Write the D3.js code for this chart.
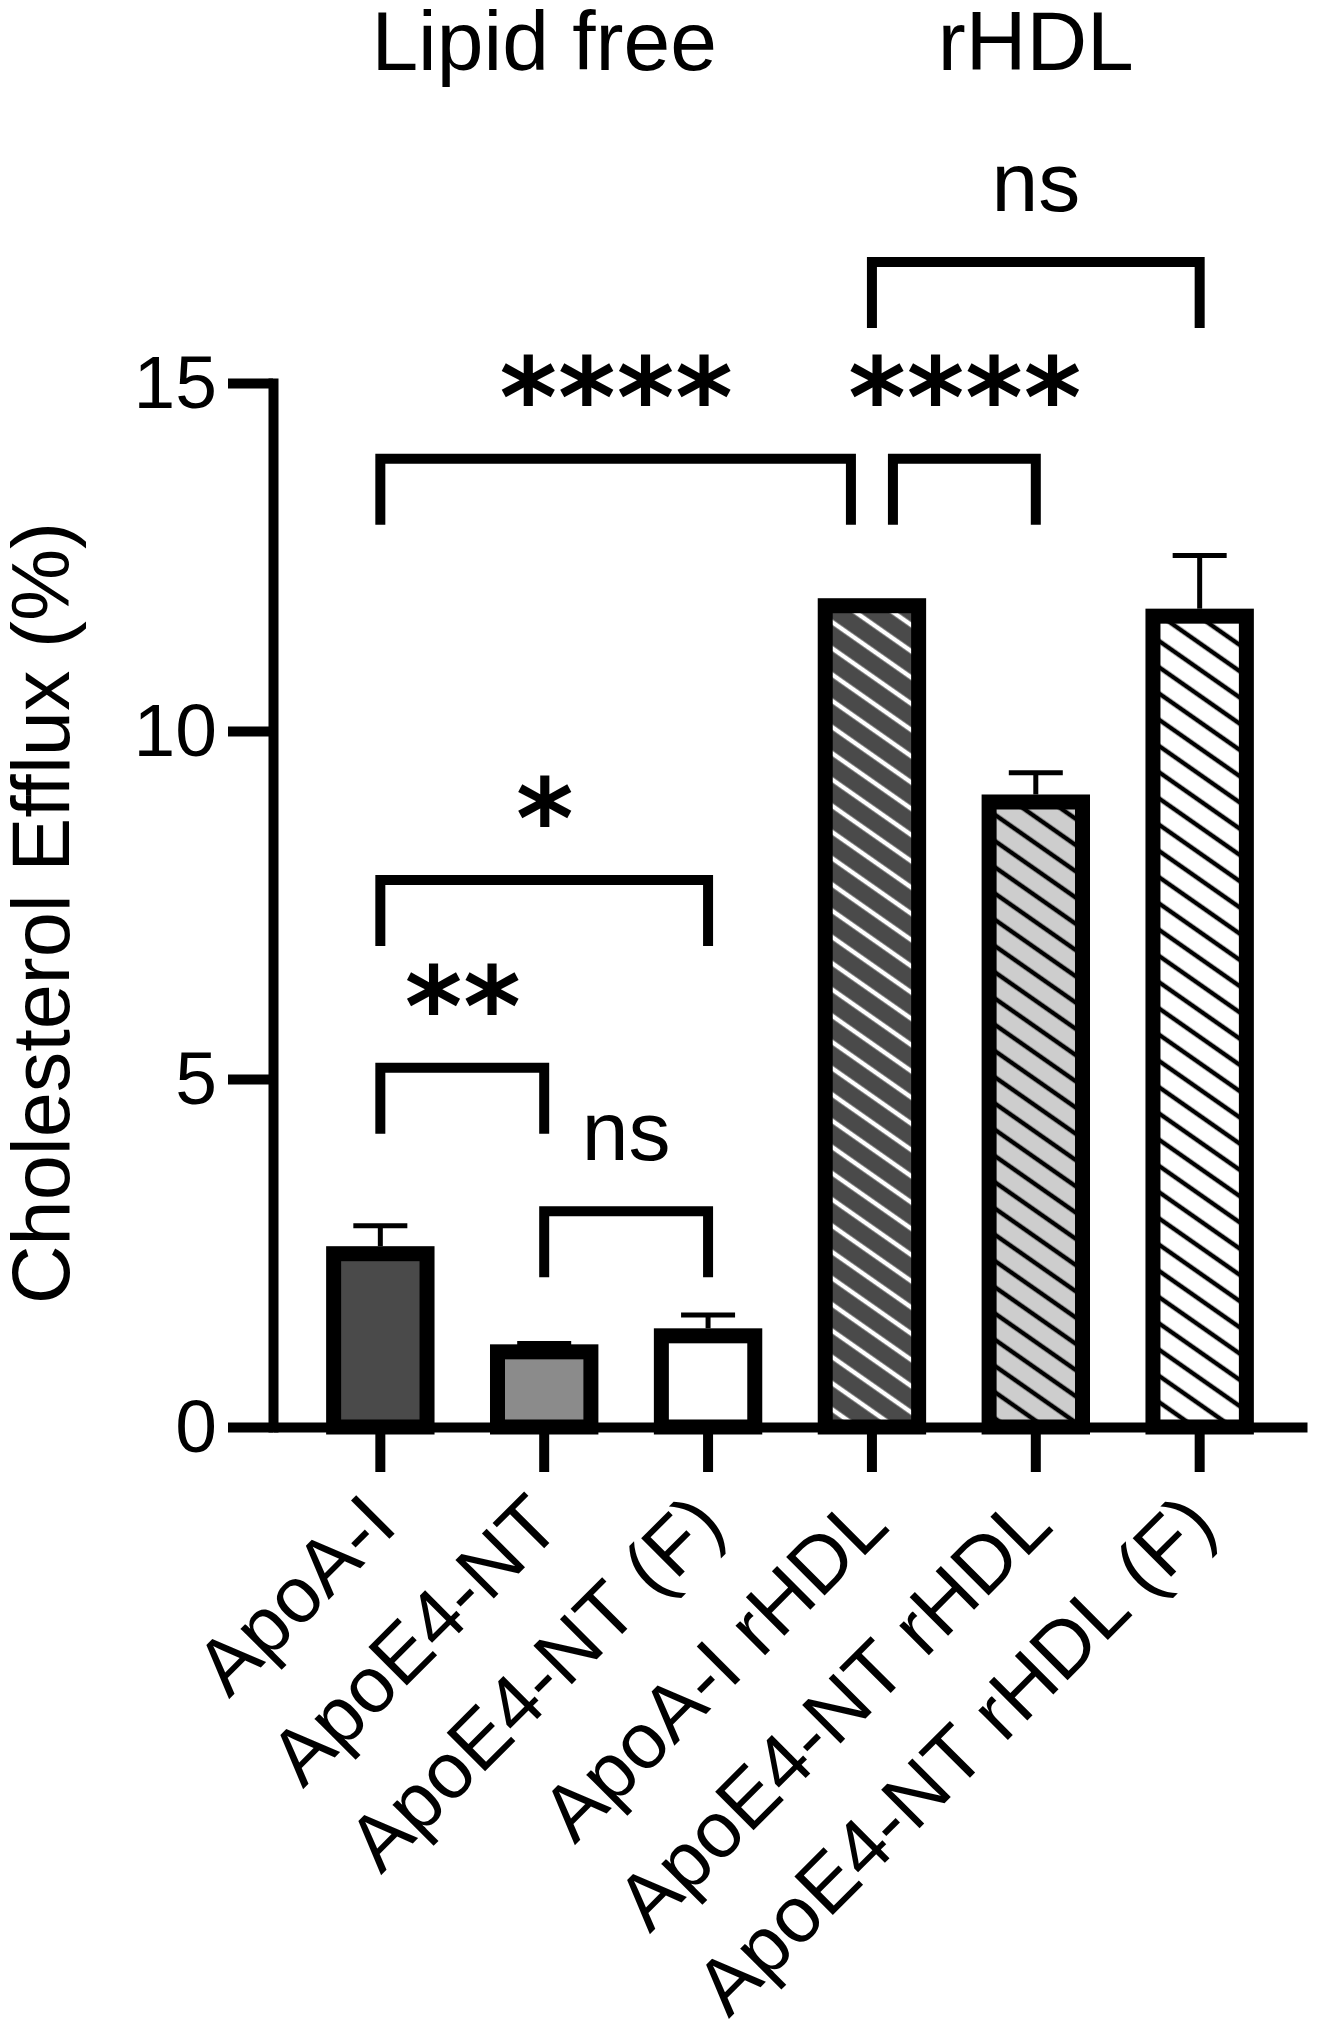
<!DOCTYPE html>
<html>
<head>
<meta charset="utf-8">
<script src="https://cdn.jsdelivr.net/npm/d3@7"></script>
<style>
body { margin: 0; background: #fff; }
text { font-family: "Liberation Sans", Arial, sans-serif; fill: #000; }
</style>
</head>
<body>
<script>
// 数据
var categories = ["ApoA-I", "ApoE4-NT", "ApoE4-NT (F)", "ApoA-I rHDL", "ApoE4-NT rHDL", "ApoE4-NT rHDL (F)"];
var means = [2.49, 1.08, 1.31, 11.8, 8.98, 11.65];
var errors = [0.40, 0.12, 0.30, 0.05, 0.42, 0.87];
var yTicks = [0, 5, 10, 15];
var groupLabels = ["Lipid free", "rHDL"];
var groupBars = [1, 4]; // which bar each group header sits over
// comparison: [from bar, to bar, label, bracket level (% efflux)]
var comparisons = [
    [0, 1, "**", 5.16],
    [0, 2, "*", 7.86],
    [1, 2, "ns", 3.10],
    [0, 3, "****", 13.91],
    [3, 4, "****", 13.91],
    [3, 5, "ns", 16.74]
];

var svg_width = 1318;
var svg_height = 2040;
var axis_left = 273;
var axis_right = 1307;
var axis_bottom = 1427;
var axis_top = 383;
var bar_stroke = 15;
var leg_len = 66;
var shared_gap = 21;

var fills = ["#4a4a4a", "#8b8b8b", "#ffffff", "url(#hatch0)", "url(#hatch1)", "url(#hatch2)"];

var svg = d3.select("body").append("svg")
    .attr("width", svg_width).attr("height", svg_height);

// 斜线填充
var defs = svg.append("defs");
[["hatch0", "#4a4a4a", "#ffffff"], ["hatch1", "#cdcdcd", "#000000"], ["hatch2", "#ffffff", "#000000"]].forEach(function(h) {
    var p = defs.append("pattern").attr("id", h[0])
        .attr("patternUnits", "userSpaceOnUse")
        .attr("width", 20).attr("height", 21.5)
        .attr("patternTransform", "rotate(35)");
    p.append("rect").attr("width", 20).attr("height", 21.5).attr("fill", h[1]);
    p.append("line").attr("x1", -1).attr("x2", 21).attr("y1", 10.75).attr("y2", 10.75)
        .attr("stroke", h[2]).attr("stroke-width", 4.5);
});

var x = d3.scaleBand().domain(categories).range([axis_left, axis_right])
    .paddingInner(0.43).paddingOuter(0.37);
var y = d3.scaleLinear().domain([0, 15]).range([axis_bottom, axis_top]);

function cx(i) { return x(categories[i]) + x.bandwidth() / 2; }

// 柱子
svg.append("g").selectAll("rect")
    .data(means)
    .enter()
    .append("rect")
    .attr("x", function(d, i) { return x(categories[i]); })
    .attr("y", function(d) { return y(d); })
    .attr("width", x.bandwidth())
    .attr("height", function(d) { return y(0) - y(d); })
    .attr("fill", function(d, i) { return fills[i]; })
    .attr("stroke", "#000")
    .attr("stroke-width", bar_stroke);

// 误差线 (只画上半)
var eb = svg.append("g").selectAll("g")
    .data(means)
    .enter()
    .append("g");
eb.append("line")
    .attr("x1", function(d, i) { return cx(i); })
    .attr("x2", function(d, i) { return cx(i); })
    .attr("y1", function(d) { return y(d) - bar_stroke / 2; })
    .attr("y2", function(d, i) { return Math.min(y(d) - bar_stroke / 2, y(d + errors[i])); })
    .attr("stroke", "#000").attr("stroke-width", 5);
eb.append("line")
    .attr("x1", function(d, i) { return cx(i) - 27; })
    .attr("x2", function(d, i) { return cx(i) + 27; })
    .attr("y1", function(d, i) { return y(d + errors[i]); })
    .attr("y2", function(d, i) { return y(d + errors[i]); })
    .attr("stroke", "#000").attr("stroke-width", 5);

// 坐标轴
var xAxis = svg.append("g")
    .attr("transform", "translate(0," + axis_bottom + ")")
    .call(d3.axisBottom(x).tickSize(45).tickSizeOuter(0).tickFormat(""));
xAxis.select(".domain").attr("stroke-width", 10);
xAxis.selectAll(".tick line").attr("stroke-width", 10);

xAxis.selectAll(".tick").append("text")
    .attr("transform", "translate(0,82) rotate(-45)")
    .attr("text-anchor", "end")
    .attr("dy", "0.35em")
    .style("font-size", "79px")
    .text(function(d) { return d; });

var yAxis = svg.append("g")
    .attr("transform", "translate(" + axis_left + ",0)")
    .call(d3.axisLeft(y).tickValues(yTicks).tickSize(45).tickSizeOuter(0).tickPadding(11));
yAxis.select(".domain").attr("stroke-width", 10).attr("stroke-linecap", "square");
yAxis.selectAll(".tick line").attr("stroke-width", 10);
yAxis.selectAll(".tick text")
    .style("font-size", "75px")
    .style("font-family", "'Liberation Sans', Arial, sans-serif")
    .attr("fill", "#000");

svg.append("text")
    .attr("transform", "translate(69," + ((axis_top + axis_bottom) / 2 + 8) + ") rotate(-90)")
    .attr("text-anchor", "middle")
    .style("font-size", "81px")
    .text("Cholesterol Efflux (%)");

// 组标题
svg.selectAll(".group")
    .data(groupLabels)
    .enter()
    .append("text")
    .attr("class", "group")
    .attr("x", function(d, i) { return cx(groupBars[i]); })
    .attr("y", 70)
    .attr("text-anchor", "middle")
    .style("font-size", "84px")
    .text(function(d) { return d; });

// 显著性括号
function endX(c, end) {
    var bar = c[end];
    var base = cx(bar);
    var shared = comparisons.some(function(o) {
        return o !== c && o[3] === c[3] && (o[0] === bar || o[1] === bar);
    });
    if (!shared) return base;
    return end === 0 ? base + shared_gap : base - shared_gap;
}

var br = svg.append("g").selectAll("g")
    .data(comparisons)
    .enter()
    .append("g");
br.append("path")
    .attr("d", function(c) {
        var x1 = endX(c, 0), x2 = endX(c, 1), yl = y(c[3]);
        return "M" + x1 + "," + (yl + leg_len) + "V" + yl + "H" + x2 + "V" + (yl + leg_len);
    })
    .attr("fill", "none")
    .attr("stroke", "#000")
    .attr("stroke-width", 10)
    .attr("stroke-linejoin", "miter");

var isNs = function(c) { return c[2] === "ns"; };
br.append("text")
    .attr("x", function(c) {
        var mid = (endX(c, 0) + endX(c, 1)) / 2;
        return isNs(c) ? mid : mid + 1; // compensate trailing letter-spacing
    })
    .attr("y", function(c) { return isNs(c) ? y(c[3]) - 51 : y(c[3]) - 22; })
    .attr("text-anchor", "middle")
    .style("font-family", function(c) { return isNs(c) ? null : "'DejaVu Sans', sans-serif"; })
    .style("font-size", function(c) { return isNs(c) ? "84px" : "110px"; })
    .style("font-weight", function(c) { return isNs(c) ? "normal" : "bold"; })
    .style("letter-spacing", function(c) { return isNs(c) ? null : "1px"; })
    .text(function(c) { return c[2]; });
</script>
</body>
</html>
